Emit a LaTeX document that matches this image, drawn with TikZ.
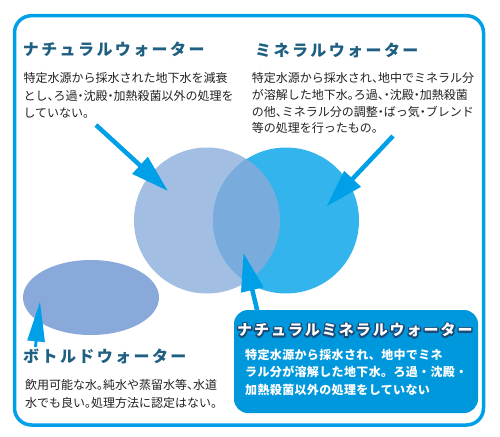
\documentclass[tikz,border=0pt]{standalone}
\usepackage{fontspec}
\usetikzlibrary{arrows.meta}
\newfontfamily\jptitle[LetterSpace=15]{Noto Sans CJK JP}
\newfontfamily\jpboxtitle[LetterSpace=13]{Noto Sans CJK JP}
\newfontfamily\jpbody[RawFeature=+halt]{Noto Sans CJK JP}
\newfontfamily\jpboxbody[LetterSpace=3]{Noto Sans CJK JP}
\definecolor{framec}{HTML}{00A0E9}
\definecolor{titlec}{HTML}{1E5F82}
\definecolor{bodyc}{HTML}{222222}
\definecolor{circA}{HTML}{A2BEE3}
\definecolor{circB}{HTML}{33B4ED}
\definecolor{circAB}{HTML}{79ACDC}
\definecolor{ellc}{HTML}{88A9DA}
\definecolor{boxc}{HTML}{0098DC}
\definecolor{navyc}{HTML}{1B4A77}
\newcommand\myoutlined[1]{\rlap{\textcolor{navyc}{\special{pdf:literal direct 2 Tr 3 w 1 j}#1\special{pdf:literal direct 0 Tr}}}#1}
\tikzset{
  ttl/.style={anchor=west,inner sep=0pt,text=titlec,font=\jptitle\bfseries\fontsize{16}{16}\selectfont},
  bodytxt/.style={anchor=west,inner sep=0pt,text=bodyc,font=\jpbody\fontsize{12}{12}\selectfont},
  boxtxt/.style={anchor=west,inner sep=0pt,text=white,font=\jpboxbody\bfseries\fontsize{12}{12}\selectfont},
  boxttl/.style={anchor=west,inner sep=0pt,font=\jpboxtitle\bfseries\fontsize{15}{15}\selectfont},
  arr/.style={draw=framec,line width=4.5pt,-{Triangle[length=38pt,width=22pt]}},
}
\begin{document}
\begin{tikzpicture}[x=1pt,y=-1pt]
\useasboundingbox (0,0) rectangle (500,436);
\fill[white] (0,0) rectangle (500,436);
% frame
\draw[framec,line width=3.5pt,rounded corners=17pt] (14.5,15.7) rectangle (483.5,425);
% shapes
\fill[circA] (207,220.5) circle (73pt);
\fill[circB] (286,220.5) circle (73pt);
\begin{scope}
  \clip (207,220.5) circle (73pt);
  \fill[circAB] (286,220.5) circle (73pt);
\end{scope}
\fill[ellc] (91,297.5) ellipse (68pt and 37.5pt);
% arrow coordinates
\coordinate (a1s) at (96,125);
\coordinate (a1t) at (168,191);
\coordinate (a2s) at (393,136);
\coordinate (a2t) at (326.5,206.5);
\coordinate (a3s) at (259,318);
\coordinate (a3t) at (243.5,253);
\coordinate (a4s) at (35.5,347);
\coordinate (a4t) at (40,301.5);
\draw[arr] (a1s) -- (a1t);
\draw[arr] (a2s) -- (a2t);
\draw[arr] (a3s) -- (a3t);
\draw[draw=framec,line width=3pt,-{Triangle[length=40pt,width=17pt]}] (a4s) -- (a4t);
% natural water
\node[ttl] (nt) at (22.7,49) {ナチュラルウォーター};
\node[bodytxt] (nb1) at (23.3,78) {特定水源から採水された地下水を減衰};
\node[bodytxt] (nb2) at (23.3,95.5) {とし、ろ過・沈殿・加熱殺菌以外の処理を};
\node[bodytxt] (nb3) at (23.3,113) {していない。};
% mineral water
\node[ttl] (mt) at (255,50) {ミネラルウォーター};
\node[bodytxt] (mb1) at (251.7,78.3) {特定水源から採水され、地中でミネラル分};
\node[bodytxt] (mb2) at (251.7,95) {が溶解した地下水。ろ過、・沈殿・加熱殺菌};
\node[bodytxt] (mb3) at (251.7,111.7) {の他、ミネラル分の調整・ばっ気・ブレンド};
\node[bodytxt] (mb4) at (251.7,128.3) {等の処理を行ったもの。};
% bottled water
\node[ttl] (bt) at (23,356) {ボトルドウォーター};
\node[bodytxt] (bb1) at (25,385) {飲用可能な水。純水や蒸留水等、水道};
\node[bodytxt] (bb2) at (25,403) {水でも良い。処理方法に認定はない。};
% natural mineral box
\node[fill=boxc,rounded corners=14pt,minimum width=244pt,minimum height=103pt,inner sep=0pt] (nmbox) at (356,361.5) {};
\node[boxttl,text=white] (nmt) at (237,330) {\myoutlined{ナチュラルミネラルウォーター}};
\node[boxtxt] (nm1) at (245,355) {特定水源から採水され、地中でミネ};
\node[boxtxt] (nm2) at (245,372) {ラル分が溶解した地下水。ろ過・沈殿・};
\node[boxtxt] (nm3) at (245,390) {加熱殺菌以外の処理をしていない};
\end{tikzpicture}
\end{document}
